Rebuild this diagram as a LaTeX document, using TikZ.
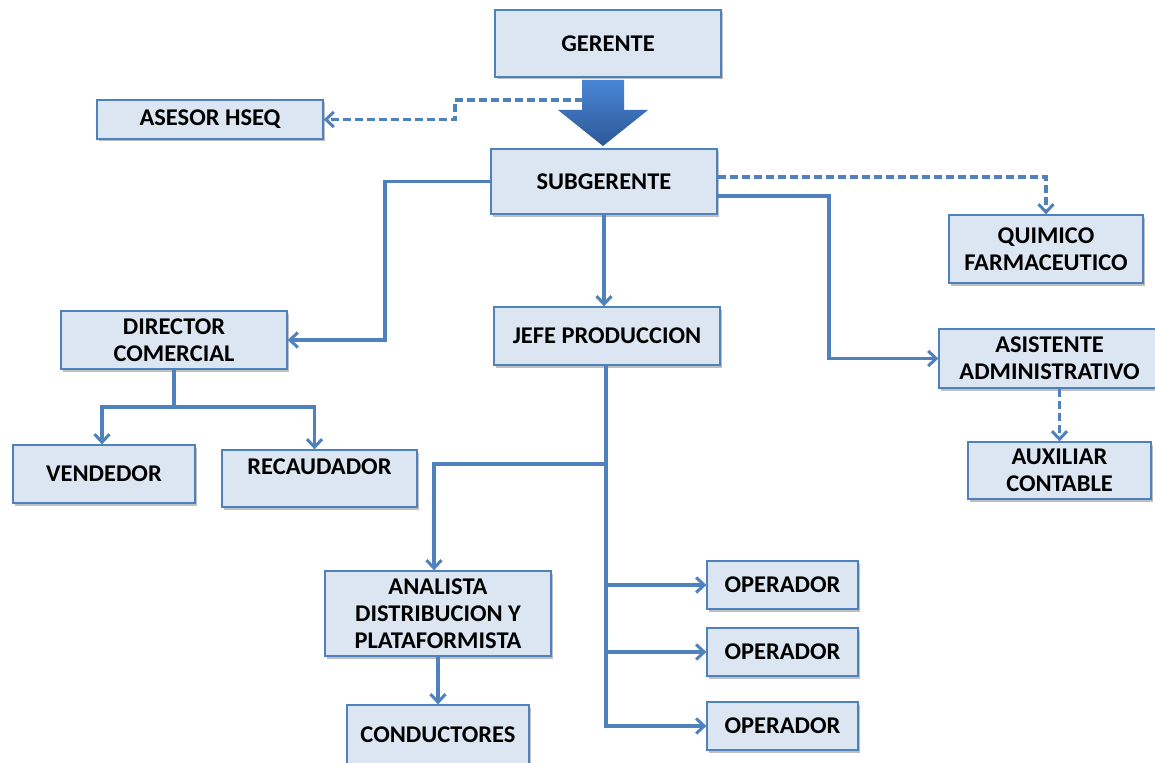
\documentclass[tikz,border=0pt]{standalone}
\usepackage{fontspec}
\setmainfont{Carlito}[FakeStretch=1.02]
\usetikzlibrary{arrows.meta,shadows,calc}
\definecolor{lineblue}{RGB}{79,129,189}
\definecolor{boxfill}{RGB}{220,230,242}
\definecolor{arrtop}{RGB}{74,134,214}
\definecolor{arrbot}{RGB}{44,88,150}
\tikzset{
  box/.style={draw=lineblue, line width=1.3pt, fill=boxfill, align=center,
    font=\fontsize{24}{27}\selectfont\bfseries, inner sep=0pt,
    drop shadow={shadow xshift=2pt, shadow yshift=-2.5pt, fill=black, opacity=0.25}},
  conn/.style={draw=lineblue, line width=3.3pt, -{Straight Barb[length=8pt,width=15pt,line width=3pt]}},
  dconn/.style={conn, dash pattern=on 8pt off 4pt},
}
\begin{document}
\begin{tikzpicture}[x=1pt,y=-1pt]
\useasboundingbox (0,0) rectangle (1155,762);
\fill[white] (0,0) rectangle (1155,762);

\node[box, minimum width=226pt, minimum height=67pt] (ger) at (608,43.5) {GERENTE};
\node[box, minimum width=226pt, minimum height=39pt] (ases) at (210,119.5) {ASESOR HSEQ};
\node[box, minimum width=226pt, minimum height=65pt] (sub) at (604,181.5) {SUBGERENTE};
\node[box, minimum width=194pt, minimum height=68pt] (quim) at (1046,249) {QUIMICO\\FARMACEUTICO};
\node[box, minimum width=226pt, minimum height=58pt] (dir) at (174,340) {DIRECTOR\\COMERCIAL};
\node[box, minimum width=226pt, minimum height=58pt] (jefe) at (607,336) {JEFE PRODUCCION};
\node[box, minimum width=221pt, minimum height=59pt] (asis) at (1049.5,358.5) {ASISTENTE\\ADMINISTRATIVO};
\node[box, minimum width=183pt, minimum height=57pt] (aux) at (1059.5,470.5) {AUXILIAR\\CONTABLE};
\node[box, minimum width=182pt, minimum height=58pt] (vend) at (104,474) {VENDEDOR};
\node[box, minimum width=195pt, minimum height=57pt, text depth=24pt] (reca) at (319.5,478.5) {RECAUDADOR};
\node[box, minimum width=226pt, minimum height=85pt] (anal) at (438,613.5) {ANALISTA\\DISTRIBUCION Y\\PLATAFORMISTA};
\node[box, minimum width=182pt, minimum height=60pt] (cond) at (438,735) {CONDUCTORES};
\node[box, minimum width=151pt, minimum height=48pt] (op1) at (782.5,585) {OPERADOR};
\node[box, minimum width=151pt, minimum height=48pt] (op2) at (782.5,652) {OPERADOR};
\node[box, minimum width=151pt, minimum height=48pt] (op3) at (782.5,726) {OPERADOR};

% big arrow gerente -> subgerente
\shade[top color=arrtop, bottom color=arrbot]
  (582,80) -- (624,80) -- (624,110) -- (648,110) -- (603,146) -- (558,110) -- (582,110) -- cycle;
\coordinate (ba) at (583,100);
\coordinate (c3) at (455,110);
\draw[dconn] (ba) -| (c3) |- (ases.east);

% subgerente connections
\draw[dconn] ([yshift=4.5pt]sub.east) -| (quim.north);
\coordinate (c1) at (385,250);
\draw[conn] (sub.west) -| (c1) |- (dir.east);
\draw[conn] (sub.south) -- (sub.south |- jefe.north);
\coordinate (c2) at (829,300);
\draw[conn] ([yshift=-14.5pt]sub.east) -| (c2) |- (asis.west);
\draw[dconn] (aux.north |- asis.south) -- (aux.north);

% director
\coordinate (dj) at (174,407);
\draw[conn] (dir.south) -- (dj) -| ([xshift=-2pt]vend.north);
\draw[conn] (dj) -| ([xshift=-5pt]reca.north);

% jefe produccion
\coordinate (jb) at (606,464);
\draw[conn] (jb |- jefe.south) -- (jb |- op3.west) -- (op3.west);
\draw[conn] (jb |- op1.west) -- (op1.west);
\draw[conn] (jb |- op2.west) -- (op2.west);
\draw[conn] (jb) -| ([xshift=-4pt]anal.north);
\draw[conn] (anal.south) -- (cond.north);
\end{tikzpicture}
\end{document}
